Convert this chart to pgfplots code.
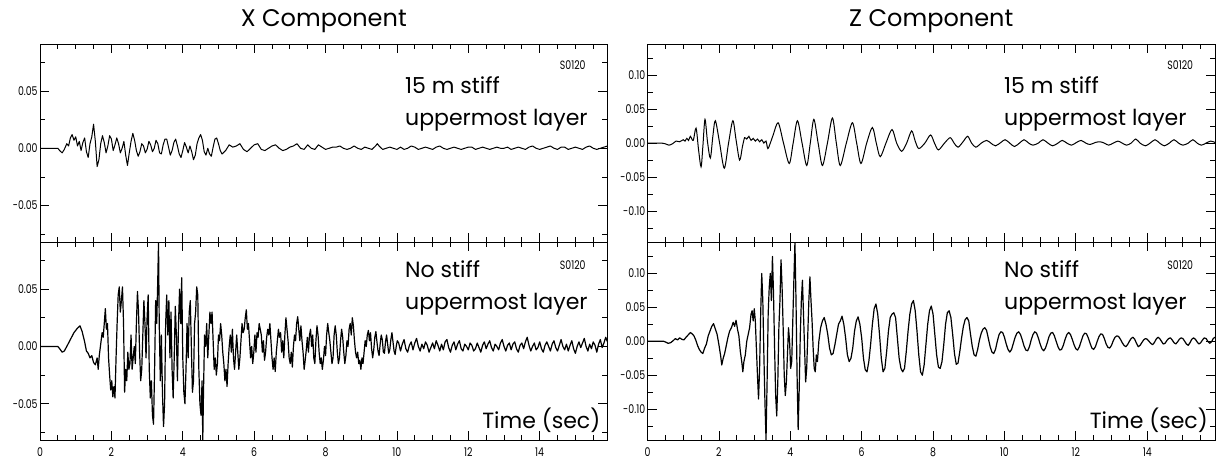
\documentclass[border=0pt]{standalone}
\usepackage{fontspec}
\setmainfont{Poppins}
\newfontfamily\tickfont[FakeStretch=0.78]{Poppins}
\usepackage{pgfplots}
\pgfplotsset{compat=1.18}
\usepackage{pgfplotstable}
\usepgfplotslibrary{groupplots}

% X component, 15 m stiff uppermost layer
\pgfplotstableread{
t y
0 0
0.4 0
0.5 0.000
0.55 -0.002
0.62 -0.004
0.68 -0.001
0.75 0.004
0.8 0.002
0.85 0.009
0.9 0.012
0.95 0.007
1.0 0.010
1.05 0.002
1.1 0.006
1.15 -0.002
1.2 0.005
1.25 0.009
1.3 -0.003
1.35 -0.008
1.4 0.004
1.45 0.010
1.5 0.021
1.55 0.006
1.6 -0.016
1.65 -0.010
1.7 0.004
1.75 0.011
1.8 0.005
1.85 -0.004
1.9 0.002
1.95 0.011
2.0 0.008
2.05 -0.002
2.1 0.003
2.15 0.009
2.2 0.004
2.25 -0.004
2.3 0.000
2.35 0.006
2.4 -0.006
2.45 -0.015
2.5 -0.004
2.55 0.006
2.6 0.013
2.65 0.007
2.7 -0.002
2.75 -0.007
2.8 -0.003
2.85 0.004
2.9 0.002
2.95 -0.004
3.0 -0.001
3.05 0.006
3.1 0.003
3.15 -0.003
3.2 0.000
3.25 0.007
3.3 0.004
3.35 -0.004
3.4 -0.005
3.45 0.003
3.5 0.008
3.55 0.008
3.6 0.001
3.65 -0.006
3.7 -0.002
3.75 0.005
3.8 0.008
3.85 0.002
3.9 -0.005
3.95 -0.008
4.0 -0.002
4.05 0.005
4.1 0.001
4.15 -0.004
4.2 0.002
4.25 -0.003
4.3 -0.010
4.35 -0.006
4.4 0.004
4.45 0.009
4.5 0.012
4.55 0.007
4.6 -0.003
4.65 -0.006
4.7 0.000
4.75 -0.005
4.8 -0.007
4.85 0.001
4.9 0.008
4.95 0.009
5.0 0.004
5.05 -0.002
5.1 -0.005
5.2 -0.002
5.3 0.003
5.4 0.001
5.5 0.002
5.6 0.004
5.7 -0.001
5.8 -0.003
5.9 0.000
6.0 0.003
6.1 0.004
6.2 -0.001
6.3 -0.002
6.4 0.000
6.5 0.002
6.6 0.003
6.7 0.000
6.8 -0.002
6.9 -0.001
7.0 0.001
7.1 0.002
7.2 0.004
7.3 0.000
7.4 -0.001
7.5 0.003
7.6 0.000
7.7 -0.001
7.8 0.003
7.9 0.001
8.0 -0.001
8.1 0.000
8.2 0.001
8.3 0.001
8.4 0.002
8.5 0.000
8.6 -0.001
8.7 0.000
8.8 0.002
8.9 0.000
9.0 -0.001
9.1 0.001
9.2 0.000
9.3 -0.001
9.4 0.002
9.45 0.004
9.5 0.002
9.6 -0.001
9.7 0.000
9.8 0.001
9.9 0.000
10.0 -0.001
10.1 0.001
10.2 -0.001
10.3 0.000
10.4 0.002
10.5 0.001
10.6 -0.001
10.7 0.000
10.8 0.001
10.9 0.000
11.0 -0.001
11.1 0.001
11.2 0.002
11.3 0.000
11.4 -0.001
11.5 0.000
11.6 0.001
11.7 0.000
11.8 -0.001
11.9 0.000
12.0 0.001
12.1 0.001
12.2 -0.001
12.3 0.000
12.4 0.001
12.5 0.000
12.6 -0.001
12.7 0.000
12.8 0.001
12.9 0.000
13.0 0.000
13.1 0.001
13.2 -0.001
13.3 0.000
13.4 0.001
13.5 0.000
13.6 -0.001
13.7 0.001
13.8 0.002
13.9 0.000
14.0 -0.001
14.1 0.000
14.2 0.001
14.3 0.002
14.4 0.000
14.5 -0.001
14.6 0.001
14.7 0.001
14.8 -0.001
14.9 0.000
15.0 0.001
15.1 0.000
15.2 -0.001
15.3 0.001
15.4 0.002
15.5 0.000
15.6 -0.001
15.7 0.000
15.8 0.001
15.9 0.002
}\xstiff

% Z component, 15 m stiff uppermost layer
\pgfplotstableread{
t y
0 0
0.4 0
0.5 -0.001
0.6 -0.003
0.7 -0.001
0.8 0.003
0.9 0.002
1.0 0.005
1.05 0.003
1.1 0.007
1.15 0.004
1.2 0.010
1.28 0.004
1.36 0.022
1.43 -0.010
1.50 -0.035
1.55 -0.005
1.61 0.035
1.68 0.002
1.76 -0.022
1.83 0.010
1.90 0.033
2.02 0.000
2.15 -0.037
2.27 0.000
2.39 0.033
2.48 0.005
2.58 -0.025
2.66 -0.005
2.72 0.008
2.78 0.006
2.84 0.010
2.90 0.004
2.96 0.007
3.02 0.003
3.08 0.006
3.14 0.002
3.20 0.005
3.26 0.000
3.32 0.003
3.37 -0.008
3.44 0.000
3.52 0.012
3.66 0.030
3.81 0.000
3.97 -0.030
4.08 0.000
4.20 0.033
4.33 0.000
4.46 -0.033
4.56 0.000
4.66 0.035
4.78 0.000
4.90 -0.033
5.04 0.000
5.18 0.037
5.29 0.000
5.40 -0.033
5.57 0.000
5.74 0.030
5.86 0.000
5.98 -0.030
6.14 0.000
6.30 0.023
6.41 0.000
6.52 -0.020
6.68 0.000
6.85 0.020
6.98 0.000
7.12 -0.012
7.26 0.000
7.40 0.018
7.50 0.003
7.60 -0.008
7.77 0.000
7.93 0.012
8.04 0.000
8.15 -0.010
8.32 0.000
8.48 0.008
8.59 0.000
8.70 -0.006
8.84 0.002
8.97 0.010
9.08 0.000
9.20 -0.006
9.35 0.000
9.50 0.004
9.62 0.000
9.75 -0.004
9.90 0.001
10.02 0.005
10.15 0.000
10.28 -0.005
10.42 0.000
10.55 0.005
10.68 0.000
10.80 -0.003
10.95 0.000
11.08 0.005
11.22 0.000
11.35 -0.004
11.50 0.000
11.62 0.004
11.75 0.000
11.88 -0.003
12.02 0.001
12.15 0.004
12.28 0.000
12.40 -0.002
12.55 0.001
12.68 0.002
12.80 0.000
12.92 -0.003
13.05 0.000
13.18 0.003
13.30 0.000
13.42 -0.003
13.55 0.000
13.68 0.006
13.80 0.000
13.95 -0.004
14.08 0.000
14.22 0.005
14.35 0.000
14.48 -0.004
14.62 0.000
14.75 0.005
14.88 0.000
15.00 -0.003
15.15 0.000
15.28 0.005
15.40 0.000
15.52 -0.003
15.65 0.000
15.78 0.003
15.90 0.001
}\zstiff

% X component, no stiff uppermost layer
\pgfplotstableread{
t y
0 0
0.5 0.000
0.55 -0.002
0.62 -0.005
0.68 -0.004
0.75 0.000
0.85 0.006
0.95 0.012
1.05 0.016
1.12 0.018
1.18 0.013
1.25 0.004
1.3 -0.004
1.35 -0.006
1.4 -0.010
1.45 -0.008
1.5 -0.014
1.55 -0.016
1.6 -0.010
1.63 -0.020
1.66 -0.008
1.7 0.002
1.74 0.012
1.77 0.008
1.8 0.020
1.83 0.033
1.86 0.015
1.89 0.020
1.92 -0.010
1.95 -0.025
1.98 -0.038
2.01 -0.030
2.04 -0.044
2.07 -0.035
2.1 -0.045
2.13 -0.010
2.16 0.020
2.19 0.045
2.22 0.052
2.25 0.030
2.28 0.040
2.31 0.052
2.34 0.020
2.37 -0.040
2.40 -0.020
2.43 -0.030
2.46 -0.005
2.49 -0.020
2.52 -0.015
2.55 0.010
2.58 -0.020
2.61 -0.010
2.64 0.000
2.67 -0.015
2.70 0.020
2.73 0.048
2.76 0.030
2.79 -0.005
2.82 -0.030
2.85 -0.020
2.88 0.010
2.91 0.040
2.94 0.020
2.97 -0.010
3.00 0.025
3.03 0.045
3.06 -0.020
3.09 -0.045
3.12 -0.030
3.15 -0.060
3.18 -0.068
3.21 -0.020
3.24 0.040
3.27 0.020
3.30 0.060
3.32 0.091
3.34 0.020
3.37 -0.030
3.40 0.010
3.43 -0.040
3.46 -0.070
3.49 -0.050
3.52 0.020
3.55 0.045
3.58 0.010
3.61 0.040
3.64 -0.010
3.67 0.030
3.70 -0.020
3.73 -0.045
3.76 -0.010
3.79 0.035
3.82 0.010
3.85 -0.030
3.88 0.020
3.91 0.050
3.94 0.020
3.97 0.060
4.00 -0.010
4.03 -0.040
4.06 -0.050
4.09 -0.020
4.12 0.020
4.15 -0.010
4.18 0.030
4.21 0.040
4.24 0.000
4.27 -0.040
4.30 -0.030
4.33 0.020
4.36 0.030
4.39 0.052
4.42 0.045
4.45 -0.020
4.48 -0.050
4.51 -0.060
4.54 -0.030
4.56 -0.082
4.58 -0.040
4.61 0.010
4.64 0.000
4.67 0.020
4.70 -0.010
4.73 0.010
4.76 0.030
4.79 0.020
4.82 0.030
4.85 0.005
4.88 -0.020
4.91 -0.010
4.94 -0.025
4.97 -0.015
5.00 0.010
5.03 0.005
5.06 0.020
5.09 0.010
5.12 -0.005
5.15 -0.015
5.18 -0.030
5.21 -0.020
5.24 -0.035
5.27 -0.015
5.30 0.000
5.33 0.010
5.36 -0.005
5.39 0.015
5.42 -0.010
5.45 -0.020
5.48 -0.005
5.51 0.010
5.54 -0.005
5.57 -0.020
5.60 -0.010
5.63 0.005
5.66 0.020
5.69 0.012
5.72 0.015
5.75 0.025
5.78 0.032
5.81 0.015
5.84 0.020
5.87 0.005
5.90 -0.010
5.93 0.000
5.96 -0.015
5.99 -0.005
6.02 0.010
6.05 -0.005
6.08 0.012
6.11 0.008
6.14 0.020
6.17 0.015
6.20 0.010
6.23 -0.005
6.26 0.005
6.29 -0.012
6.32 -0.005
6.35 0.008
6.38 0.015
6.41 0.010
6.44 0.020
6.47 0.005
6.50 -0.010
6.53 -0.020
6.56 -0.010
6.59 -0.022
6.62 -0.005
6.65 0.005
6.68 0.015
6.71 0.008
6.74 0.012
6.77 -0.005
6.80 0.005
6.83 -0.010
6.86 0.010
6.89 0.025
6.92 0.015
6.95 0.005
6.98 -0.010
7.01 -0.015
7.04 -0.005
7.07 -0.018
7.10 0.000
7.13 0.010
7.16 0.005
7.19 0.020
7.22 0.026
7.25 0.015
7.28 0.005
7.31 0.018
7.34 0.005
7.37 -0.005
7.40 -0.020
7.43 -0.012
7.46 -0.003
7.49 0.008
7.52 -0.005
7.55 0.010
7.58 0.015
7.61 0.000
7.64 0.010
7.67 -0.010
7.70 -0.015
7.73 0.005
7.76 0.018
7.79 0.010
7.82 -0.005
7.85 -0.015
7.88 -0.010
7.91 -0.020
7.94 -0.012
7.97 0.000
8.00 -0.008
8.03 0.010
8.06 0.020
8.09 0.012
8.12 0.005
8.15 -0.005
8.18 -0.015
8.21 -0.010
8.24 0.010
8.27 0.018
8.30 0.010
8.33 -0.005
8.36 -0.015
8.39 -0.010
8.42 0.005
8.45 0.015
8.48 0.008
8.51 -0.005
8.54 -0.015
8.57 -0.008
8.60 0.005
8.63 0.000
8.66 0.015
8.69 0.020
8.72 0.010
8.75 0.025
8.78 0.018
8.81 0.005
8.84 -0.005
8.87 -0.010
8.90 -0.005
8.93 -0.015
8.96 -0.012
8.99 -0.020
9.02 -0.010
9.05 -0.015
9.08 -0.005
9.11 0.005
9.14 0.000
9.17 0.010
9.20 0.014
9.23 0.005
9.26 0.012
9.29 -0.002
9.32 -0.010
9.35 -0.003
9.38 0.008
9.41 0.013
9.44 0.004
9.47 -0.004
9.50 -0.008
9.53 0.002
9.56 0.010
9.59 0.006
9.62 -0.005
9.65 -0.006
9.68 0.004
9.71 0.010
9.74 0.002
9.77 -0.006
9.80 -0.003
9.83 0.006
9.86 0.012
9.89 0.004
9.92 -0.004
9.95 -0.007
9.98 0.000
10.01 0.005
10.05 0.003
10.10 -0.004
10.15 0.002
10.20 0.006
10.25 -0.002
10.30 -0.005
10.35 0.001
10.40 0.004
10.45 -0.003
10.50 0.003
10.55 0.007
10.60 0.000
10.65 -0.004
10.70 0.002
10.75 -0.002
10.80 0.004
10.85 0.001
10.90 -0.005
10.95 -0.001
11.00 0.003
11.05 -0.002
11.10 0.005
11.15 0.001
11.20 -0.004
11.25 0.002
11.30 -0.003
11.35 0.004
11.40 0.006
11.45 -0.001
11.50 -0.005
11.55 0.001
11.60 0.004
11.65 -0.003
11.70 0.002
11.75 0.005
11.80 -0.002
11.85 -0.004
11.90 0.002
11.95 0.000
12.00 -0.003
12.05 0.003
12.10 0.001
12.15 -0.004
12.20 -0.002
12.25 0.003
12.30 -0.001
12.35 -0.005
12.40 0.001
12.45 0.004
12.50 -0.002
12.55 0.002
12.60 0.005
12.65 -0.001
12.70 -0.004
12.75 0.002
12.80 0.000
12.85 -0.003
12.90 0.003
12.95 0.006
13.00 0.000
13.05 -0.004
13.10 0.001
13.15 0.003
13.20 -0.003
13.25 0.002
13.30 0.004
13.35 -0.002
13.40 -0.005
13.45 0.001
13.50 0.003
13.55 -0.002
13.60 0.004
13.65 0.008
13.70 0.001
13.75 -0.004
13.80 0.000
13.85 0.003
13.90 -0.003
13.95 -0.001
14.00 0.004
14.05 -0.002
14.10 -0.005
14.15 0.001
14.20 0.004
14.25 0.000
14.30 -0.004
14.35 0.002
14.40 0.005
14.45 -0.001
14.50 -0.004
14.55 0.001
14.60 0.006
14.65 0.000
14.70 -0.003
14.75 0.002
14.80 -0.004
14.85 0.001
14.90 0.005
14.95 -0.002
15.00 -0.006
15.05 0.000
15.10 0.004
15.15 -0.001
15.20 0.003
15.25 0.007
15.30 0.000
15.35 -0.004
15.40 0.002
15.45 -0.002
15.50 0.004
15.55 0.001
15.60 -0.005
15.65 0.002
15.70 0.006
15.75 -0.001
15.80 0.003
15.85 0.008
15.90 0.004
}\xnone

% Z component, no stiff uppermost layer
\pgfplotstableread{
t y
0 0
0.45 0
0.5 -0.001
0.58 -0.003
0.65 -0.002
0.72 0.001
0.78 0.004
0.84 0.002
0.9 0.005
0.96 0.003
1.02 0.002
1.08 0.006
1.15 0.010
1.2 0.013
1.25 0.011
1.3 0.008
1.35 0.002
1.4 -0.006
1.45 -0.012
1.5 -0.016
1.55 -0.018
1.6 -0.010
1.65 -0.004
1.7 0.008
1.75 0.015
1.8 0.022
1.85 0.026
1.9 0.018
1.95 0.010
2.0 -0.005
2.05 -0.022
2.08 -0.035
2.12 -0.025
2.16 -0.018
2.2 -0.008
2.25 0.005
2.3 0.015
2.35 0.020
2.4 0.028
2.44 0.022
2.48 0.031
2.52 0.018
2.56 0.008
2.6 -0.015
2.64 -0.030
2.67 -0.045
2.7 -0.030
2.74 -0.020
2.78 0.000
2.82 0.010
2.86 0.020
2.9 0.040
2.93 0.045
2.96 0.030
2.99 0.048
3.02 0.030
3.05 -0.010
3.08 -0.050
3.11 -0.085
3.14 -0.040
3.17 0.040
3.20 0.100
3.23 0.060
3.26 -0.020
3.29 -0.090
3.32 -0.145
3.35 -0.060
3.38 0.040
3.41 0.080
3.44 0.100
3.47 0.060
3.50 0.125
3.53 0.070
3.56 -0.010
3.59 -0.080
3.62 -0.110
3.65 -0.060
3.68 0.020
3.71 0.060
3.74 0.120
3.77 0.080
3.80 0.020
3.83 -0.050
3.86 -0.080
3.89 -0.060
3.92 -0.020
3.95 0.020
3.98 0.000
4.01 -0.040
4.04 -0.030
4.07 0.030
4.10 0.090
4.13 0.146
4.16 0.060
4.19 -0.050
4.22 -0.130
4.25 -0.070
4.28 0.010
4.31 0.060
4.34 0.090
4.37 0.040
4.40 -0.010
4.43 -0.060
4.46 -0.040
4.49 0.010
4.52 0.060
4.55 0.095
4.58 0.060
4.61 0.030
4.64 -0.010
4.67 -0.040
4.70 -0.045
4.73 -0.020
4.76 -0.030
4.80 0.000
4.85 0.020
4.90 0.030
4.95 0.035
5.00 0.025
5.05 0.010
5.10 -0.010
5.15 -0.020
5.20 -0.018
5.25 -0.005
5.30 0.010
5.35 0.025
5.40 0.030
5.45 0.037
5.50 0.025
5.55 0.005
5.60 -0.020
5.65 -0.030
5.70 -0.025
5.75 -0.010
5.80 0.015
5.85 0.030
5.90 0.036
5.95 0.025
6.00 0.005
6.05 -0.025
6.10 -0.042
6.15 -0.045
6.20 -0.030
6.25 -0.005
6.30 0.025
6.35 0.048
6.40 0.055
6.45 0.040
6.50 0.010
6.55 -0.025
6.60 -0.045
6.65 -0.040
6.70 -0.015
6.75 0.015
6.80 0.035
6.85 0.040
6.90 0.042
6.95 0.035
7.00 0.005
7.05 -0.025
7.10 -0.040
7.15 -0.045
7.20 -0.040
7.25 -0.015
7.30 0.015
7.35 0.040
7.40 0.055
7.45 0.060
7.50 0.045
7.55 0.015
7.60 -0.020
7.65 -0.045
7.70 -0.050
7.75 -0.035
7.80 -0.005
7.85 0.025
7.90 0.045
7.95 0.052
8.00 0.040
8.05 0.010
8.10 -0.020
8.15 -0.038
8.20 -0.040
8.25 -0.030
8.30 -0.005
8.35 0.025
8.40 0.042
8.45 0.045
8.50 0.035
8.55 0.010
8.60 -0.018
8.65 -0.034
8.70 -0.032
8.75 -0.015
8.80 0.005
8.85 0.022
8.90 0.032
8.95 0.035
9.00 0.030
9.05 0.010
9.10 -0.008
9.15 -0.020
9.20 -0.022
9.25 -0.012
9.30 0.002
9.35 0.012
9.40 0.018
9.45 0.020
9.50 0.016
9.55 0.004
9.60 -0.008
9.65 -0.016
9.70 -0.018
9.75 -0.012
9.80 0.000
9.85 0.010
9.90 0.014
9.95 0.013
10.00 0.006
10.05 -0.004
10.10 -0.012
10.15 -0.016
10.20 -0.012
10.25 -0.003
10.30 0.006
10.35 0.012
10.40 0.014
10.45 0.010
10.50 0.002
10.55 -0.007
10.60 -0.013
10.65 -0.014
10.70 -0.008
10.75 0.002
10.80 0.010
10.85 0.014
10.90 0.012
10.95 0.005
11.00 -0.004
11.05 -0.011
11.10 -0.014
11.15 -0.010
11.20 -0.002
11.25 0.007
11.30 0.012
11.35 0.013
11.40 0.008
11.45 0.000
11.50 -0.008
11.55 -0.013
11.60 -0.012
11.65 -0.006
11.70 0.003
11.75 0.010
11.80 0.013
11.85 0.010
11.90 0.003
11.95 -0.005
12.00 -0.011
12.05 -0.013
12.10 -0.008
12.15 0.000
12.20 0.008
12.25 0.012
12.30 0.011
12.35 0.005
12.40 -0.003
12.45 -0.010
12.50 -0.012
12.55 -0.008
12.60 0.000
12.65 0.007
12.70 0.011
12.75 0.010
12.80 0.004
12.85 -0.004
12.90 -0.009
12.95 -0.010
13.00 -0.006
13.05 0.001
13.10 0.006
13.15 0.008
13.20 0.007
13.25 0.003
13.30 -0.002
13.35 -0.006
13.40 -0.008
13.45 -0.005
13.50 0.000
13.55 0.004
13.60 0.006
13.65 0.003
13.70 -0.003
13.75 -0.008
13.80 -0.006
13.85 -0.002
13.90 0.002
13.95 0.004
14.00 0.003
14.05 0.000
14.10 -0.003
14.15 -0.005
14.20 -0.002
14.25 0.003
14.30 0.006
14.35 0.004
14.40 0.000
14.45 -0.004
14.50 -0.003
14.55 0.001
14.60 0.004
14.65 0.005
14.70 0.002
14.75 -0.002
14.80 -0.004
14.85 -0.001
14.90 0.003
14.95 0.005
15.00 0.004
15.05 0.000
15.10 -0.004
15.15 -0.006
15.20 -0.002
15.25 0.003
15.30 0.005
15.35 0.003
15.40 -0.001
15.45 -0.004
15.50 -0.002
15.55 0.002
15.60 0.005
15.65 0.004
15.70 0.000
15.75 -0.003
15.80 -0.001
15.85 0.004
15.90 0.006
}\znone

\begin{document}
\begin{tikzpicture}
\begin{groupplot}[
  group style={group size=2 by 2, horizontal sep=20pt, vertical sep=0pt,
    x descriptions at=edge bottom},
  scale only axis, width=283.5pt, height=99pt,
  xmin=0, xmax=15.9,
  xtick={0,2,4,6,8,10,12,14},
  minor xtick={0.5,1,...,15.5},
  tick align=inside, tick pos=both,
  major tick length=4.5pt, minor tick length=2.5pt,
  every tick/.style={black, line width=0.4pt},
  axis line style={line width=0.5pt},
  tick label style={font=\tickfont\fontsize{6}{6}\selectfont},
  yticklabel style={inner xsep=1pt},
  /pgf/number format/assume math mode=true,
  scaled y ticks=false,
  yticklabel style={/pgf/number format/fixed, /pgf/number format/fixed zerofill, /pgf/number format/precision=2},
  title style={font=\fontsize{12}{12}\selectfont, yshift=-4pt},
  clip=true,
]
\nextgroupplot[title={X Component}, ymin=-0.082, ymax=0.091,
  ytick={-0.05,0,0.05}, minor ytick={-0.075,-0.025,0.025,0.075}]
\addplot[black, line width=0.5pt, line join=round] table {\xstiff};
\node[anchor=base west, font=\fontsize{11}{11}\selectfont] at (rel axis cs:0.631,0.75) {15 m stiff};
\node[anchor=base west, font=\fontsize{11}{11}\selectfont] at (rel axis cs:0.631,0.59) {uppermost layer};
\node[anchor=east, font=\tickfont\fontsize{6}{6}\selectfont, inner sep=0pt] at (rel axis cs:0.962,0.895) {S0120};

\nextgroupplot[title={Z Component}, ymin=-0.146, ymax=0.146,
  ytick={-0.1,-0.05,0,0.05,0.1}, minor ytick={-0.125,-0.075,-0.025,0.025,0.075,0.125}]
\addplot[black, line width=0.5pt, smooth, tension=0.5] table {\zstiff};
\node[anchor=base west, font=\fontsize{11}{11}\selectfont] at (rel axis cs:0.616,0.75) {15 m stiff};
\node[anchor=base west, font=\fontsize{11}{11}\selectfont] at (rel axis cs:0.616,0.59) {uppermost layer};
\node[anchor=east, font=\tickfont\fontsize{6}{6}\selectfont, inner sep=0pt] at (rel axis cs:0.962,0.895) {S0120};

\nextgroupplot[ymin=-0.082, ymax=0.091,
  ytick={-0.05,0,0.05}, minor ytick={-0.075,-0.025,0.025,0.075}]
\addplot[black, line width=0.6pt, line join=round] table {\xnone};
\node[anchor=base west, font=\fontsize{11}{11}\selectfont] at (rel axis cs:0.631,0.82) {No stiff};
\node[anchor=base west, font=\fontsize{11}{11}\selectfont] at (rel axis cs:0.631,0.66) {uppermost layer};
\node[anchor=east, font=\tickfont\fontsize{6}{6}\selectfont, inner sep=0pt] at (rel axis cs:0.962,0.885) {S0120};
\node[anchor=base east, font=\fontsize{11}{11}\selectfont, inner sep=0pt] at (rel axis cs:0.988,0.06) {Time (sec)};

\nextgroupplot[ymin=-0.146, ymax=0.146,
  ytick={-0.1,-0.05,0,0.05,0.1}, minor ytick={-0.125,-0.075,-0.025,0.025,0.075,0.125}]
\addplot[black, line width=0.6pt, line join=round] table {\znone};
\node[anchor=base west, font=\fontsize{11}{11}\selectfont] at (rel axis cs:0.616,0.82) {No stiff};
\node[anchor=base west, font=\fontsize{11}{11}\selectfont] at (rel axis cs:0.616,0.66) {uppermost layer};
\node[anchor=east, font=\tickfont\fontsize{6}{6}\selectfont, inner sep=0pt] at (rel axis cs:0.962,0.885) {S0120};
\node[anchor=base east, font=\fontsize{11}{11}\selectfont, inner sep=0pt] at (rel axis cs:0.988,0.06) {Time (sec)};
\end{groupplot}
\pgfresetboundingbox
\path[use as bounding box] ([xshift=-20pt,yshift=22pt]group c1r1.north west) rectangle ([xshift=1pt,yshift=-10pt]group c2r2.south east);
\end{tikzpicture}
\end{document}
